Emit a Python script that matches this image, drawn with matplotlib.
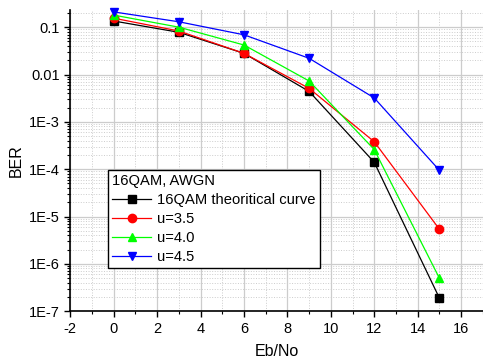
import numpy as np
import matplotlib.pyplot as plt
from matplotlib.ticker import LogLocator, MultipleLocator, FuncFormatter, NullFormatter

plt.rcParams['font.family'] = ['Liberation Sans', 'DejaVu Sans']
plt.rcParams['axes.unicode_minus'] = False

ebno = [0, 3, 6, 9, 12, 15]
ber_theory = [0.135, 0.078, 0.028, 4.4e-3, 1.4e-4, 1.9e-7]
ber_u35 = [0.155, 0.083, 0.028, 5.1e-3, 3.8e-4, 5.4e-6]
ber_u40 = [0.18, 0.10, 0.042, 7.3e-3, 2.6e-4, 5.0e-7]
ber_u45 = [0.21, 0.13, 0.069, 0.022, 3.2e-3, 9.5e-5]

series = [
    ("16QAM theoritical curve", ber_theory, "black", "s"),
    ("u=3.5", ber_u35, "red", "o"),
    ("u=4.0", ber_u40, "#00ff00", "^"),
    ("u=4.5", ber_u45, "blue", "v"),
]

fig = plt.figure(figsize=(4.83, 3.59), dpi=100)
ax = fig.add_axes([0.1456, 0.133, 0.854, 0.839])

for label, vals, col, mk in series:
    ax.plot(ebno, vals, color=col, marker=mk, markersize=6, linewidth=0.9,
            label=label, clip_on=False, zorder=3)

ax.set_yscale('log')
ax.set_xlim(-2, 17)
ax.set_ylim(1e-7, 0.23)

ax.xaxis.set_major_locator(MultipleLocator(2))
ax.xaxis.set_minor_locator(MultipleLocator(1))
ax.yaxis.set_major_locator(LogLocator(base=10, numticks=20))
ax.yaxis.set_minor_locator(LogLocator(base=10, subs=np.arange(2, 10), numticks=20))
ax.yaxis.set_minor_formatter(NullFormatter())

def fmt(v, pos):
    e = int(round(np.log10(v)))
    if e == -1:
        return "0.1"
    if e == -2:
        return "0.01"
    return "1E%d" % e

ax.yaxis.set_major_formatter(FuncFormatter(fmt))

ax.grid(which='major', color='#cccccc', linewidth=0.9, linestyle='-')
ax.grid(which='minor', color='#cccccc', linewidth=0.7, linestyle=':')
ax.set_axisbelow(True)

for s in ['top', 'right']:
    ax.spines[s].set_visible(False)
ax.spines['left'].set_linewidth(1.2)
ax.spines['bottom'].set_linewidth(1.2)
ax.tick_params(which='major', direction='out', length=4, width=1.0, labelsize=10.5)
ax.tick_params(which='minor', direction='out', length=2.5, width=0.8)

ax.set_xlabel("Eb/No", fontsize=11.5, labelpad=6)
ax.set_ylabel("BER", fontsize=11.5)

leg = ax.legend(title="16QAM, AWGN", loc='upper left', bbox_to_anchor=(0.0914, 0.469),
                fontsize=10.6, title_fontsize=10.6, frameon=True, fancybox=False,
                edgecolor='black', framealpha=1, handlelength=2.6, borderpad=0.3,
                labelspacing=0.33, handletextpad=0.4, borderaxespad=0)
leg._legend_box.align = "left"
leg.get_frame().set_linewidth(1.0)

fig.savefig("out.png", dpi=100)
